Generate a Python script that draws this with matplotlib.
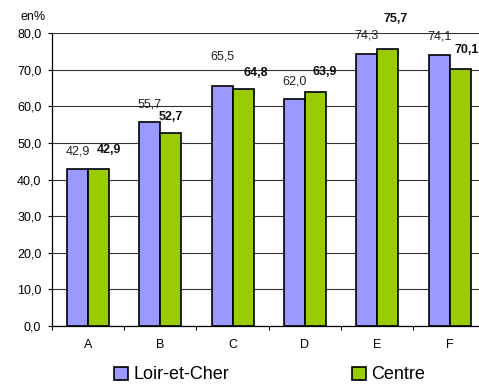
import matplotlib.pyplot as plt
import numpy as np

plt.rcParams['font.family'] = ['Liberation Sans', 'DejaVu Sans']

# values in %
categories = ['A', 'B', 'C', 'D', 'E', 'F']
loir_et_cher = [42.9, 55.7, 65.5, 62.0, 74.3, 74.1]
centre = [42.9, 52.7, 64.8, 63.9, 75.7, 70.1]
series_names = ['Loir-et-Cher', 'Centre']
yticks = [0, 10, 20, 30, 40, 50, 60, 70, 80]

blue = '#9999FF'
green = '#99CC00'

fig = plt.figure(figsize=(4.79, 3.85), dpi=100)
ax = fig.add_axes([0.108, 0.153, 0.906, 0.761])

x = np.arange(len(categories))
w = 0.29
b1 = ax.bar(x - w / 2, loir_et_cher, w, color=blue, edgecolor='black', linewidth=1.2, zorder=3, label=series_names[0])
b2 = ax.bar(x + w / 2, centre, w, color=green, edgecolor='black', linewidth=1.2, zorder=3, label=series_names[1])

ax.set_xlim(-0.5, len(categories) - 0.5)
ax.set_ylim(0, 80)

# value labels, offsets in pixels (Excel nudged some of them)
px = 0.72
off_blue = [(0, 17), (0, 18), (0, 30), (0, 18), (0, 18), (0, 18)]
off_green = [(11, 19), (0, 16), (13, 16), (9, 20), (8, 30), (7, 19)]
for bar, v, (dx, dy) in zip(b1, loir_et_cher, off_blue):
    ax.annotate(f'{v:.1f}'.replace('.', ','), (bar.get_x() + bar.get_width() / 2, v),
                xytext=(dx * px, dy * px), textcoords='offset points',
                ha='center', va='center', fontsize=9, color='#222222', annotation_clip=False)
for bar, v, (dx, dy) in zip(b2, centre, off_green):
    ax.annotate(f'{v:.1f}'.replace('.', ','), (bar.get_x() + bar.get_width() / 2, v),
                xytext=(dx * px, dy * px), textcoords='offset points',
                ha='center', va='center', fontsize=9, fontweight='bold', color='#111111', annotation_clip=False)

ax.set_yticks(yticks)
ax.set_yticklabels([f'{t:.1f}'.replace('.', ',') for t in yticks], fontsize=9)
ax.yaxis.grid(True, color='#333333', linewidth=0.8, zorder=0)
ax.tick_params(axis='y', direction='out', length=3, width=0.8, pad=4.5)

ax.set_xticks(x)
ax.set_xticklabels(categories, fontsize=9)
ax.set_xticks(np.arange(len(categories) + 1) - 0.5, minor=True)
ax.tick_params(axis='x', which='major', length=0, pad=9)
ax.tick_params(axis='x', which='minor', direction='out', length=3, width=0.8)

for s in ['top', 'right']:
    ax.spines[s].set_visible(False)
ax.spines['left'].set_linewidth(0.9)
ax.spines['bottom'].set_linewidth(0.9)

fig.text(0.042, 0.957, 'en%', fontsize=9, va='center', ha='left')

fig.legend(handles=[b1, b2], loc='center', bbox_to_anchor=(0.563, 0.026), ncol=2,
           frameon=False, fontsize=13, handlelength=0.76, handleheight=0.76,
           handletextpad=0.32, columnspacing=6.8, borderpad=0.1)

fig.savefig('out.png', dpi=100)
